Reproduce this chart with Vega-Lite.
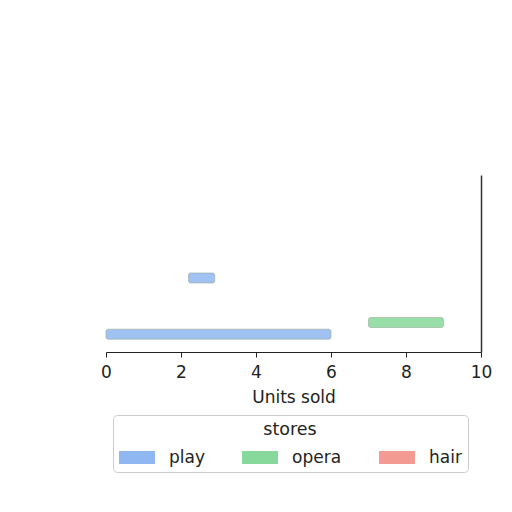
{
  "$schema": "https://vega.github.io/schema/vega-lite/v6.json",
  "width": 375,
  "height": 177,
  "padding": {"left": 100, "top": 175, "right": 0, "bottom": 0},
  "background": "white",
  "config": {
    "font": "DejaVu Sans",
    "view": {"stroke": null}
  },
  "data": {
    "values": [
      {"store": "play", "start": 0, "end": 6, "row": 1.15},
      {"store": "opera", "start": 7, "end": 9, "row": 2.2},
      {"store": "play", "start": 2.2, "end": 2.9, "row": 6.2}
    ]
  },
  "mark": {"type": "bar", "size": 10, "cornerRadius": 2, "stroke": "#8a9a8a", "strokeWidth": 0.6, "opacity": 0.85},
  "encoding": {
    "x": {
      "field": "start",
      "type": "quantitative",
      "scale": {"domain": [0, 10], "nice": false},
      "axis": {
        "title": "Units sold",
        "values": [0, 2, 4, 6, 8, 10],
        "grid": false,
        "labelFlush": false,
        "domainColor": "#222222",
        "tickColor": "#222222",
        "tickSize": 5,
        "labelFontSize": 17,
        "labelColor": "#222222",
        "labelPadding": 7,
        "titleFontSize": 17,
        "titleFontWeight": "normal",
        "titleColor": "#222222",
        "titlePadding": 9
      }
    },
    "x2": {"field": "end"},
    "y": {
      "field": "row",
      "type": "quantitative",
      "scale": {"domain": [0, 15], "nice": false},
      "axis": {
        "orient": "right",
        "title": null,
        "labels": false,
        "ticks": false,
        "grid": false,
        "domainColor": "#333333",
        "domainWidth": 1.5
      }
    },
    "color": {
      "field": "store",
      "type": "nominal",
      "scale": {"domain": ["play", "opera", "hair"], "range": ["#8fb8f2", "#86d99b", "#f39a93"]},
      "legend": {
        "title": "stores",
        "orient": "none",
        "legendX": 7,
        "legendY": 240,
        "direction": "horizontal",
        "columns": 3,
        "columnPadding": 37,
        "titleAnchor": "middle",
        "titleFontSize": 17.5,
        "titleFontWeight": "normal",
        "titleColor": "#222222",
        "titlePadding": 1,
        "labelFontSize": 17,
        "labelColor": "#222222",
        "labelOffset": 14,
        "symbolType": "M-1,-0.36H1V0.36H-1Z",
        "symbolSize": 1296,
        "symbolStrokeWidth": 0,
        "symbolOpacity": 1,
        "fillColor": "white",
        "strokeColor": "#cccccc",
        "cornerRadius": 4,
        "padding": 6
      }
    }
  }
}
